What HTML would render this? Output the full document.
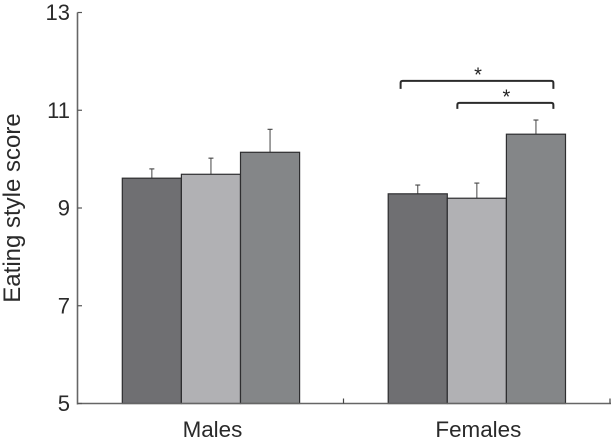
<!DOCTYPE html>
<html>
<head>
<meta charset="utf-8">
<style>
html,body{margin:0;padding:0;background:#fff;width:611px;height:445px;overflow:hidden}
svg{display:block;font-family:"Liberation Sans",sans-serif}
</style>
</head>
<body>
<svg id="chart" width="611" height="445" viewBox="0 0 611 445" xmlns="http://www.w3.org/2000/svg"></svg>
<script>
const groups = ['Males', 'Females'];
const seriesNames = ['series-1', 'series-2', 'series-3'];
const seriesFills = ['#6f6f72', '#b1b1b4', '#848688'];
const barValues = [[9.61, 9.69, 10.14], [9.29, 9.2, 10.51]];
const errorTops = [[9.8, 10.02, 10.61], [9.47, 9.51, 10.8]];
const yTicks = [5, 7, 9, 11, 13];
const yAxisTitle = 'Eating style score';
const significance = [
  { label: '*', group: 1, from: 0.21, to: 2.795, level: 11.6 },
  { label: '*', group: 1, from: 1.17, to: 2.795, level: 11.15 }
];

const svg = document.getElementById('chart');
const NS = 'http://www.w3.org/2000/svg';
const yScale = v => 403.5 - (v - 5) * 48.875;
const groupStart = g => 122.3 + g * 265.9;
const barWidth = 59.1;
const barX = (g, s) => groupStart(g) + s * barWidth;

function add(tag, attrs, text) {
  const el = document.createElementNS(NS, tag);
  for (const k in attrs) el.setAttribute(k, attrs[k]);
  if (text !== undefined) el.textContent = text;
  svg.appendChild(el);
  return el;
}

barValues.forEach((vals, g) => {
  vals.forEach((v, s) => {
    const x = barX(g, s);
    const cx = x + barWidth / 2;
    const stem = add('line', { x1: cx, x2: cx, y1: yScale(v), y2: yScale(errorTops[g][s]), stroke: '#555', 'stroke-width': 1.1 });
    
    
    const cap = add('line', { x1: cx - 2.5, x2: cx + 2.5, y1: yScale(errorTops[g][s]), y2: yScale(errorTops[g][s]), stroke: '#444', 'stroke-width': 1.1 });
    
    
    const bar = add('rect', { x: x, y: yScale(v), width: barWidth, height: yScale(5) - yScale(v), fill: seriesFills[s], stroke: '#2e2e30', 'stroke-width': 1.2 });
    
    
  });
  const label = add('text', { x: barX(g, 1) + barWidth / 2 + 1.5, y: 437, 'text-anchor': 'middle', 'font-size': 22.4, fill: '#2a2a2a' }, groups[g]);
  
  
});

const yAxis = add('line', { x1: 77.5, x2: 77.5, y1: yScale(13), y2: yScale(5) + 1, stroke: '#666', 'stroke-width': 1.6 });


const xAxis = add('line', { x1: 77, x2: 611, y1: yScale(5), y2: yScale(5), stroke: '#666', 'stroke-width': 1.6 });



yTicks.forEach(t => {
  const tick = add('line', { x1: 77.5, x2: 82, y1: yScale(t), y2: yScale(t), stroke: '#555', 'stroke-width': 1.2 });
  
  
  const lab = add('text', { x: 70, y: yScale(t) + 7.5, 'text-anchor': 'end', 'font-size': 22, fill: '#2a2a2a' }, String(t));
  
  
});

[0, 1].forEach(i => {
  const sepX = 343.5 + i * 266.5;
  const sep = add('line', { x1: sepX, x2: sepX, y1: yScale(5) - 5, y2: yScale(5), stroke: '#444', 'stroke-width': 1.2 });
  
  
});

const title = add('text', { transform: 'translate(20,208) rotate(-90)', 'text-anchor': 'middle', 'font-size': 24, fill: '#2a2a2a' }, yAxisTitle);



significance.forEach((b, i) => {
  const x1 = barX(b.group, b.from);
  const x2 = barX(b.group, b.to);
  const y = yScale(b.level);
  const drop = i === 0 ? 8 : 6;
  const path = add('path', { d: 'M' + x1 + ' ' + (y + drop) + 'V' + (y + 2) + 'Q' + x1 + ' ' + y + ' ' + (x1 + 2) + ' ' + y + 'H' + (x2 - 2) + 'Q' + x2 + ' ' + y + ' ' + x2 + ' ' + (y + 2) + 'V' + (y + drop), fill: 'none', stroke: '#2b2b2b', 'stroke-width': 2 });
  
  
  const star = add('text', { x: (x1 + x2) / 2 + 1, y: y + 0.5, 'text-anchor': 'middle', 'font-size': 20, fill: '#222' }, b.label);
  
  
});
</script>
</body>
</html>
